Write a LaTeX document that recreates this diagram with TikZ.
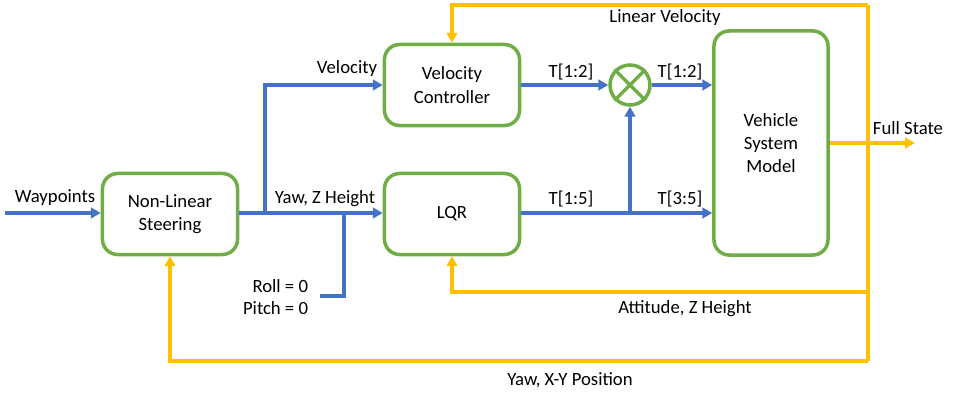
\documentclass[tikz,border=0pt]{standalone}
\usepackage{fontspec}
\setmainfont{Carlito}
\usetikzlibrary{positioning,arrows.meta}
\definecolor{sigblue}{HTML}{4472C4}
\definecolor{boxgreen}{HTML}{70AD47}
\definecolor{fbyellow}{HTML}{FFC000}

\begin{document}
\begin{tikzpicture}[x=0.025cm, y=-0.025cm,
        every node/.style={font=\fontsize{13.3}{16.5}\selectfont},
        block/.style={draw=boxgreen, line width=2.5pt, rounded corners=0.38cm, align=center,
                      minimum width=3.375cm, minimum height=2.025cm},
        sig/.style={draw=sigblue, line width=2.5pt, -{Triangle[length=7pt,width=7.5pt]}},
        sigline/.style={draw=sigblue, line width=2.5pt},
        fb/.style={draw=fbyellow, line width=2.5pt, -{Triangle[length=7pt,width=7.5pt]}},
        fbline/.style={draw=fbyellow, line width=2.5pt}]
        \useasboundingbox (0,0) rectangle (963,401);

        % Blocks
        \node[block] (nls) at (170,214) {Non-Linear\\Steering};
        \node[block] (vc)  at (452,85)  {Velocity\\Controller};
        \node[block] (lqr) at (452,214) {LQR};
        \node[block, minimum width=2.85cm, minimum height=5.6cm] (vsm) at (771,143) {Vehicle\\System\\Model};
        \node[draw=boxgreen, line width=2.5pt, circle, minimum size=1cm, inner sep=0pt] (mul) at (630,85) {};
        \draw[boxgreen, line width=2.5pt] (mul.north west) -- (mul.south east) (mul.north east) -- (mul.south west);

        % Junctions
        \coordinate (win) at (5,213);
        \coordinate (jv)  at (265,213);
        \coordinate (jr)  at (344,213);
        \coordinate (rp)  at (320,296);
        \coordinate (jt)  at (630,213);
        \coordinate (fs)  at (915,143);
        \coordinate (ftop) at (868,5);
        \coordinate (fmid) at (868,292);
        \coordinate (fbot) at (868,361);

        % Forward signals
        \draw[sig] (win) -- (nls.west |- win);
        \draw[sig] (nls.east |- win) -- (lqr.west |- win);
        \draw[sig] (jv) |- (vc.west);
        \draw[sigline] (rp) -| (jr);
        \draw[sig] (vc.east) -- (mul.west);
        \draw[sig] (mul.east) -- (vsm.west |- mul);
        \draw[sig] (lqr.east |- jt) -- (vsm.west |- jt);
        \draw[sig] (jt) -- (mul.south);

        % Feedback
        \draw[fb] (vsm.east) -- (fs);
        \draw[fbline] (ftop) -- (fbot);
        \draw[fb] (ftop) -| (vc.north);
        \draw[fb] (fmid) -| (lqr.south);
        \draw[fb] (fbot) -| (nls.south);

        % Labels
        \node (lwp)  at (55,198)  {Waypoints};
        \node (lyz)  at (325,199) {Yaw, Z Height};
        \node (lvel) at (347,69)  {Velocity};
        \node[anchor=east] (lroll)  at (313,286) {Roll = 0};
        \node[anchor=east] (lpitch) at (313,308) {Pitch = 0};
        \node (lt1)  at (571,72)  {T[1:2]};
        \node (lt2)  at (680,72)  {T[1:2]};
        \node (lt3)  at (571,199) {T[1:5]};
        \node (lt4)  at (680,199) {T[3:5]};
        \node (lfs)  at (908,128) {Full State};
        \node (llv)  at (665,18)  {Linear Velocity};
        \node (laz)  at (685,309) {Attitude, Z Height};
        \node (lyxy) at (570,380) {Yaw, X-Y Position};
\end{tikzpicture}
\end{document}
